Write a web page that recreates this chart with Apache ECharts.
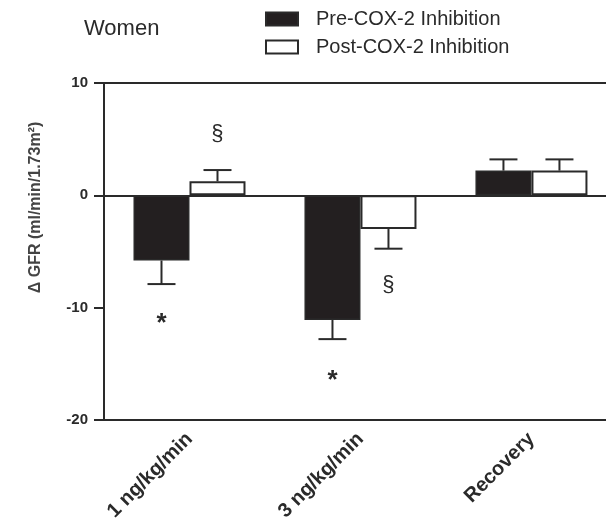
<!DOCTYPE html>
<html>
<head>
<meta charset="utf-8">
<script src="https://cdn.jsdelivr.net/npm/echarts@6/dist/echarts.min.js"></script>
<style>html,body{margin:0;padding:0;background:#fff;}#chart{width:606px;height:525px;}</style>
</head>
<body>
<div id="chart"></div>
<script>
// ---- data ----
var categories = ['1 ng/kg/min', '3 ng/kg/min', 'Recovery'];
var seriesNames = ['Pre-COX-2 Inhibition', 'Post-COX-2 Inhibition'];
var preValues = [-5.8, -11.1, 2.2];
var preErrors = [2.1, 1.7, 1.0];
var postValues = [1.25, -3.0, 2.2];
var postErrors = [1.0, 1.75, 1.0];
var yTicks = [-20, -10, 0, 10];
// significance marks: [category index, series index, y value, symbol]
var marks = [
  [0, 0, -11.4, '*'],
  [1, 0, -16.55, '*'],
  [0, 1, 5.5, '§'],
  [1, 1, -8.0, '§']
];

// ---- styling ----
var INK = '#231f20';
var LINE = '#2a2a2a';
var BAR_W = 56;
var CAP_W = 28;
var FONT = 'Liberation Sans, Arial, sans-serif';
// visible x extent (category index units); the plot is cropped at the right edge
var X_MIN = -0.5, X_MAX = 2.436;

var catIdx = categories.map(function (c, i) { return i; });

var chart = echarts.init(document.getElementById('chart'));

function barData(vals) {
  return vals.map(function (v, i) { return [catIdx[i], v]; });
}
function errData(vals, errs) {
  return vals.map(function (v, i) { return [catIdx[i], v, errs[i]]; });
}
function errRender(seriesIdx) {
  return function (params, api) {
    var c = api.value(0), v = api.value(1), e = api.value(2);
    var end = v >= 0 ? v + e : v - e;
    var p0 = api.coord([c, v]);
    var p1 = api.coord([c, end]);
    var x = p0[0] + (seriesIdx - 0.5) * BAR_W;
    var st = { stroke: LINE, lineWidth: 2 };
    return {
      type: 'group',
      children: [
        { type: 'line', shape: { x1: x, y1: p0[1], x2: x, y2: p1[1] }, style: st },
        { type: 'line', shape: { x1: x - CAP_W / 2, y1: p1[1], x2: x + CAP_W / 2, y2: p1[1] }, style: st }
      ]
    };
  };
}

var option = {
  animation: false,
  backgroundColor: '#fff',
  textStyle: { fontFamily: FONT },
  title: {
    text: 'Women', left: 84, top: 18, padding: 0,
    textStyle: { fontFamily: FONT, fontSize: 22, fontWeight: 'normal', color: '#2a2a2a' }
  },
  legend: {
    orient: 'vertical', left: 265, top: 9, padding: 0,
    icon: 'rect',
    itemWidth: 32, itemHeight: 13, itemGap: 8,
    selectedMode: false,
    data: seriesNames,
    textStyle: { fontFamily: FONT, fontSize: 20, color: '#2a2a2a', padding: [0, 0, 0, 13] }
  },
  grid: { left: 104, top: 83, right: 0, height: 337, containLabel: false },
  xAxis: [{
    type: 'value', min: X_MIN, max: X_MAX, position: 'bottom',
    splitLine: { show: false },
    axisLine: { onZero: false, lineStyle: { color: LINE, width: 2 } },
    axisTick: { show: false },
    axisLabel: {
      customValues: catIdx, showMinLabel: true, showMaxLabel: true,
      formatter: function (v) { return categories[Math.round(v)]; },
      rotate: 45, margin: 16, fontSize: 20, fontWeight: 'bold', color: '#2a2a2a', fontFamily: FONT
    }
  }, {
    type: 'value', min: X_MIN, max: X_MAX, position: 'top',
    splitLine: { show: false },
    axisLine: { onZero: false, lineStyle: { color: LINE, width: 2 } },
    axisTick: { show: false }, axisLabel: { show: false }
  }],
  yAxis: {
    type: 'value', min: yTicks[0], max: yTicks[yTicks.length - 1], interval: 10, position: 'left',
    name: 'Δ GFR (ml/min/1.73m²)', nameLocation: 'middle', nameGap: 60, nameRotate: 90,
    nameTextStyle: { fontFamily: FONT, fontSize: 16, fontWeight: 'bold', color: '#444', padding: [0, 0, 0, 88] },
    axisLine: { show: true, onZero: false, lineStyle: { color: LINE, width: 2 } },
    axisTick: { show: true, length: 10, lineStyle: { color: LINE, width: 2 } },
    axisLabel: { margin: 16, fontSize: 15, fontWeight: 'bold', color: '#2a2a2a', fontFamily: FONT },
    splitLine: { show: false }
  },
  series: [{
    name: seriesNames[0], type: 'bar', data: barData(preValues), barWidth: BAR_W, barGap: '0%',
    itemStyle: { color: INK, borderColor: LINE, borderWidth: 1.5 },
    markLine: {
      silent: true, symbol: 'none', label: { show: false },
      lineStyle: { color: LINE, width: 2, type: 'solid' },
      data: [{ yAxis: 0 }]
    }
  }, {
    name: seriesNames[1], type: 'bar', data: barData(postValues), barWidth: BAR_W, barGap: '0%',
    itemStyle: { color: '#fff', borderColor: LINE, borderWidth: 2 }
  }, {
    type: 'custom', renderItem: errRender(0), data: errData(preValues, preErrors), z: 5, silent: true
  }, {
    type: 'custom', renderItem: errRender(1), data: errData(postValues, postErrors), z: 5, silent: true
  }, {
    type: 'custom', z: 6, silent: true, data: marks,
    renderItem: function (params, api) {
      var m = marks[params.dataIndex];
      var p = api.coord([catIdx[m[0]], m[2]]);
      var x = p[0] + (m[1] - 0.5) * BAR_W;
      var isStar = m[3] === '*';
      return {
        type: 'text', x: x, y: p[1],
        style: {
          text: m[3], fontFamily: FONT, fontSize: isStar ? 26 : 22,
          fill: '#2a2a2a', align: 'center', verticalAlign: 'middle',
          fontWeight: isStar ? 'bold' : 'normal'
        }
      };
    }
  }]
};
chart.setOption(option);
</script>
</body>
</html>
